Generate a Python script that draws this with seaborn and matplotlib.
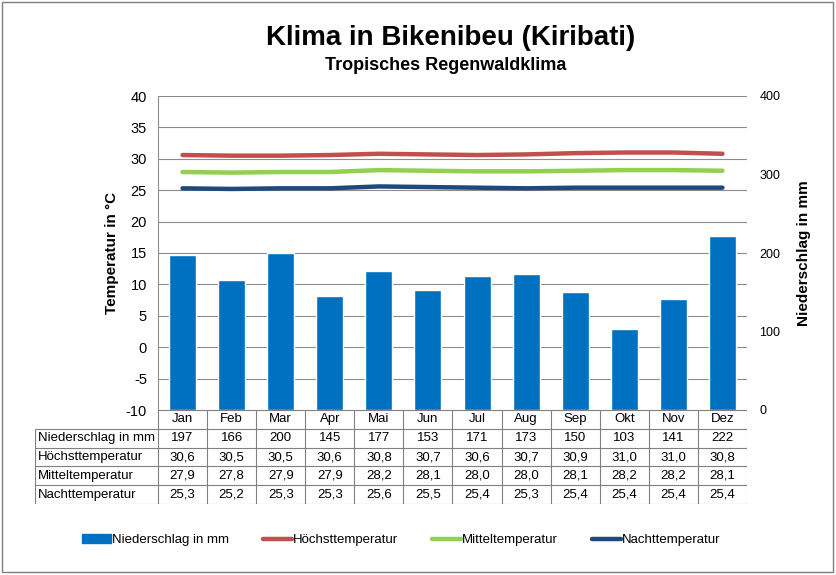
import numpy as np
import matplotlib
matplotlib.use("Agg")
import matplotlib.pyplot as plt
import seaborn as sns
from matplotlib.patches import Patch, Rectangle
from matplotlib.lines import Line2D


# Klimadaten Bikenibeu
months = ["Jan", "Feb", "Mar", "Apr", "Mai", "Jun",
          "Jul", "Aug", "Sep", "Okt", "Nov", "Dez"]
niederschlag = [197, 166, 200, 145, 177, 153, 171, 173, 150, 103, 141, 222]
hoechst = [30.6, 30.5, 30.5, 30.6, 30.8, 30.7, 30.6, 30.7, 30.9, 31.0, 31.0, 30.8]
mittel = [27.9, 27.8, 27.9, 27.9, 28.2, 28.1, 28.0, 28.0, 28.1, 28.2, 28.2, 28.1]
nacht = [25.3, 25.2, 25.3, 25.3, 25.6, 25.5, 25.4, 25.3, 25.4, 25.4, 25.4, 25.4]

row_labels = ["Niederschlag in mm", "Höchsttemperatur",
              "Mitteltemperatur", "Nachttemperatur"]

c_bar = "#0070C0"
c_hoch = "#C0504D"
c_mittel = "#92D050"
c_nacht = "#1F497D"
c_grid = "#8c8c8c"

sns.set_style("white")
plt.rcParams["font.family"] = ["Liberation Sans", "DejaVu Sans"]
plt.rcParams["axes.unicode_minus"] = False
plt.rcParams["text.color"] = "black"

W, H = 836, 575
fig = plt.figure(figsize=(W / 100, H / 100), dpi=100)


def fx(px):
    return px / W


def fy(px):
    return 1 - px / H


# plot area
left, right, top, bottom = 158, 747, 96, 410
ax = fig.add_axes([fx(left), fy(bottom), fx(right - left), (bottom - top) / H])
ax2 = ax.twinx()

x = np.arange(len(months))

sns.barplot(x=x, y=niederschlag, ax=ax2, color=c_bar, width=0.55,
            saturation=1, native_scale=True)

for vals, col in [(hoechst, c_hoch), (mittel, c_mittel), (nacht, c_nacht)]:
    sns.lineplot(x=x, y=vals, ax=ax, color=col, linewidth=3.2)

ax.set_xlim(-0.5, 11.5)
ax2.set_xlim(-0.5, 11.5)
ax.set_ylim(-10, 40)
ax2.set_ylim(0, 400)
ax.set_yticks(range(-10, 45, 5))
ax2.set_yticks(range(0, 500, 100))
ax.set_xticks([])
ax2.set_xticks([])

ax.yaxis.grid(True, color=c_grid, linewidth=0.8)
ax.set_axisbelow(True)
for sp in ["top", "right", "bottom"]:
    ax.spines[sp].set_visible(False)
    ax2.spines[sp].set_visible(False)
ax2.spines["left"].set_visible(False)
ax.spines["left"].set_color(c_grid)
ax.spines["left"].set_linewidth(0.8)

ax.tick_params(axis="y", labelsize=10.5, length=0, pad=8, colors="black")
ax2.tick_params(axis="y", labelsize=9, length=0, pad=9, colors="black")

ax.set_ylabel("Temperatur in °C", fontsize=11, fontweight="bold", labelpad=5,
              color="black")
ax2.set_ylabel("Niederschlag in mm", fontsize=11, fontweight="bold",
               labelpad=12, rotation=90, color="black")

# data table below the plot
tleft, tbottom = 35, 504
col_w = (right - left) / 12
x0 = -0.5 - (left - tleft) / col_w
tab = fig.add_axes([fx(tleft), fy(tbottom), fx(right - tleft), (tbottom - bottom) / H])
tab.set_xlim(x0, 11.5)
tab.set_ylim(5, 0)
tab.axis("off")

lc = "#808080"
tab.hlines([0], -0.5, 11.5, color=lc, lw=0.8)
tab.hlines([1, 2, 3, 4, 5], x0, 11.5, color=lc, lw=0.8)
tab.vlines(np.arange(-0.5, 12.5, 1), 0, 5, color=lc, lw=0.8)
tab.vlines([x0], 1, 5, color=lc, lw=0.8)

fs = 9.5
for i, m in enumerate(months):
    tab.text(i, 0.5, m, ha="center", va="center", fontsize=fs)

rows = [
    [str(v) for v in niederschlag],
    [f"{v:.1f}".replace(".", ",") for v in hoechst],
    [f"{v:.1f}".replace(".", ",") for v in mittel],
    [f"{v:.1f}".replace(".", ",") for v in nacht],
]
for r, (lab, vals) in enumerate(zip(row_labels, rows)):
    y = r + 1.5
    tab.text(x0 + 0.06, y, lab, ha="left", va="center", fontsize=fs)
    for i, v in enumerate(vals):
        tab.text(i, y, v, ha="center", va="center", fontsize=fs)

# titles
fig.text(fx(451), fy(38), "Klima in Bikenibeu (Kiribati)", ha="center", va="center",
         fontsize=20, fontweight="bold")
fig.text(fx(446), fy(65), "Tropisches Regenwaldklima", ha="center", va="center",
         fontsize=13, fontweight="bold")

# legend
handles = [
    Patch(facecolor=c_bar, edgecolor=c_bar),
    Line2D([0], [0], color=c_hoch, lw=3.2),
    Line2D([0], [0], color=c_mittel, lw=3.2),
    Line2D([0], [0], color=c_nacht, lw=3.2),
]
labels = ["Niederschlag in mm"] + row_labels[1:]
fig.legend(handles, labels, loc="center", bbox_to_anchor=(fx(401), fy(540)),
           ncol=4, frameon=False, fontsize=9.5, handlelength=2.2,
           handletextpad=0.05, columnspacing=2.6)

# figure border
fig.patches.append(Rectangle((fx(2), fy(572)), fx(831), (570) / H,
                             transform=fig.transFigure, fill=False,
                             edgecolor="#7f7f7f", linewidth=1))

fig.savefig("out.png", dpi=100)
